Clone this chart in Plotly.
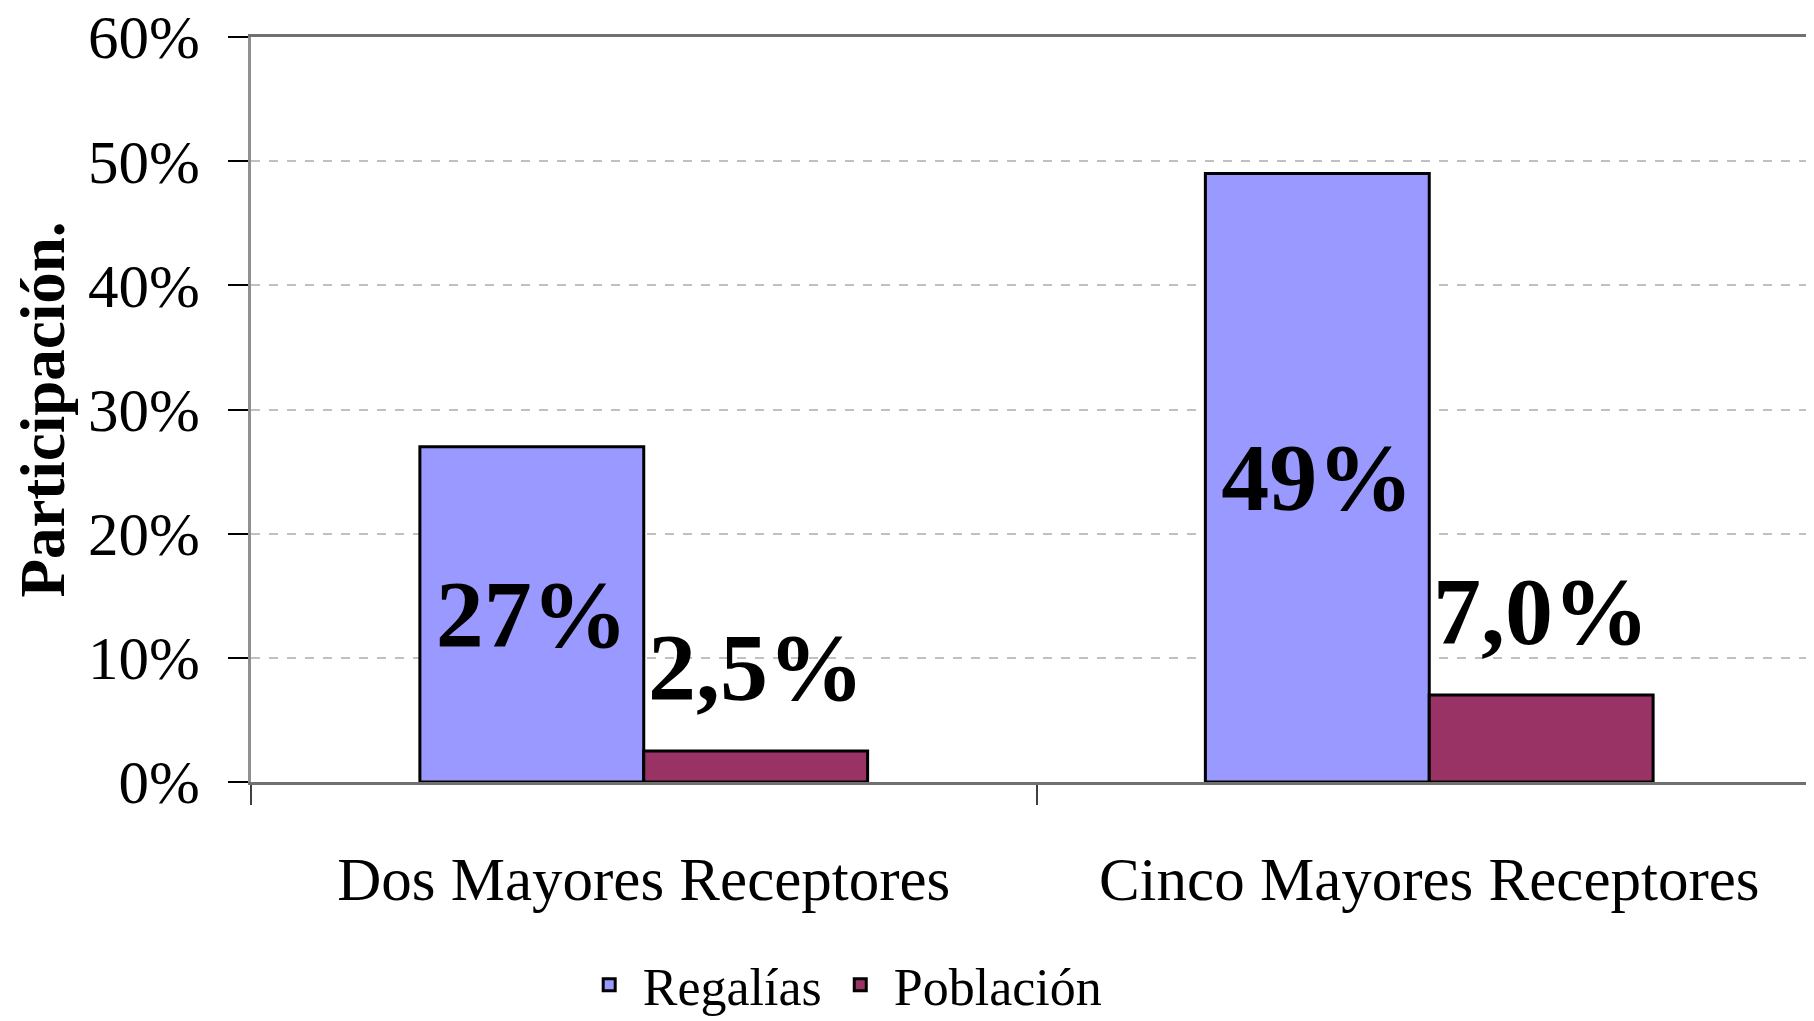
import plotly.graph_objects as go

categories = ["Dos Mayores Receptores", "Cinco Mayores Receptores"]
regalias = [0.27, 0.49]
poblacion = [0.025, 0.070]
regalias_labels = ["27%", "49%"]
poblacion_labels = ["2,5%", "7,0%"]
y_ticks = [0, 0.1, 0.2, 0.3, 0.4, 0.5, 0.6]
y_ticktext = ["0%", "10%", "20%", "30%", "40%", "50%", "60%"]

FONT = "Liberation Serif, Times New Roman, serif"
BAR_W = 0.285

fig = go.Figure()
fig.add_trace(go.Bar(
    name="Regalías", x=categories, y=regalias,
    marker=dict(color="#9999FF", line=dict(color="black", width=3)),
    text=regalias_labels, textposition="inside", insidetextanchor="middle",
    textfont=dict(family=FONT, size=96, color="black", weight="bold"),
    constraintext="none", width=BAR_W, offset=-BAR_W,
))
fig.add_trace(go.Bar(
    name="Población", x=categories, y=poblacion,
    marker=dict(color="#993366", line=dict(color="black", width=3)),
    width=BAR_W, offset=0,
))

for i, (v, lab) in enumerate(zip(poblacion, poblacion_labels)):
    fig.add_annotation(
        x=i + BAR_W / 2, y=v, xref="x", yref="y", text=f"<b>{lab}</b>",
        showarrow=False, yanchor="bottom", xanchor="center", yshift=28,
        font=dict(family=FONT, size=96, color="black"),
    )

fig.update_layout(
    width=1814, height=1021,
    margin=dict(l=243, r=0, t=29, b=247, autoexpand=False),
    paper_bgcolor="white", plot_bgcolor="white",
    barmode="group", bargap=0.43, bargroupgap=0,
    font=dict(family=FONT, color="black"),
    showlegend=True,
    legend=dict(
        orientation="h", x=0.376, xanchor="center", y=-0.2725, yanchor="middle",
        font=dict(family=FONT, size=52, color="black"),
        bgcolor="rgba(0,0,0,0)", itemwidth=57,
    ),
)

fig.update_xaxes(
    type="category", range=[-0.5, 1.5],
    showline=True, linecolor="#707070", linewidth=3, mirror=True,
    ticks="outside", tickson="boundaries", ticklen=20, tickcolor="#404040", tickwidth=1.5,
    tickfont=dict(family=FONT, size=61, color="black"),
    ticklabelstandoff=42,
    showgrid=False, zeroline=False,
)
fig.update_yaxes(
    range=[0, 0.6], tickvals=y_ticks, ticktext=y_ticktext,
    showline=True, linecolor="#909090", linewidth=3,
    ticks="outside", ticklen=20, tickcolor="black", tickwidth=1.5,
    tickfont=dict(family=FONT, size=61, color="black"),
    ticklabelstandoff=16, ticklabeloverflow="allow",
    showgrid=True, gridcolor="#c0c0c0", griddash="dash", gridwidth=1.5,
    zeroline=False,
    title=dict(text="<b>Participación.</b>", font=dict(family=FONT, size=63, color="black"), standoff=35),
)

fig.write_html("out.html")
